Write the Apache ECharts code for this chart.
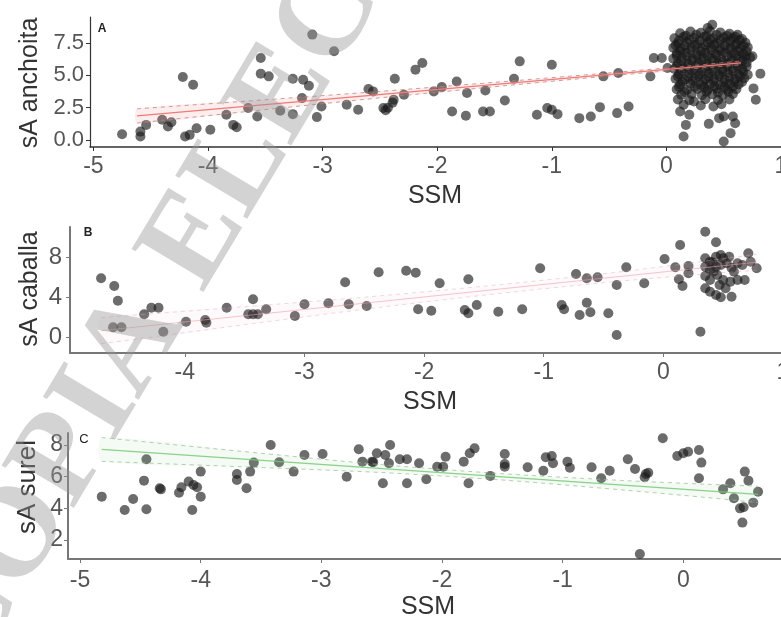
<!DOCTYPE html>
<html><head><meta charset="utf-8">
<script src="https://cdn.jsdelivr.net/npm/echarts@6/dist/echarts.min.js"></script>
<style>html,body{margin:0;padding:0;background:#fff}#c{width:781px;height:617px}</style>
</head><body><div id="c"></div>
<script>
// ---------- Panel A: sA anchoita vs SSM ----------
const anchoitaPts = [
[-4.75,0.44],[-4.59,0.26],[-4.59,0.64],[-4.54,1.16],[-4.40,1.55],[-4.35,1.03],[-4.32,1.37],[-4.22,4.86],[-4.13,4.26],
[-4.20,0.26],[-4.16,0.39],[-4.10,0.90],[-3.98,0.78],[-3.84,1.94],[-3.78,1.16],[-3.75,0.98],[-3.65,2.46],[-3.57,1.81],
[-3.54,6.33],[-3.54,5.12],[-3.47,4.91],[-3.37,2.25],[-3.26,4.73],[-3.26,1.99],[-3.18,3.23],[-3.17,4.65],[-3.12,4.19],
[-3.09,8.14],[-3.05,1.76],[-3.01,2.58],[-2.90,6.85],[-2.79,2.71],[-2.69,2.33],[-2.60,3.93],[-2.56,3.75],[-2.47,2.46],
[-2.43,2.48],[-2.39,2.87],[-2.38,3.10],[-2.45,2.30],[-2.37,4.73],[-2.29,3.49],[-2.19,5.43],[-2.13,5.95],[-2.03,3.75],
[-1.96,4.08],[-1.87,2.19],[-1.75,1.86],[-1.83,4.52],[-1.74,3.62],[-1.60,2.19],[-1.54,2.19],[-1.58,3.82],[-1.41,3.05],
[-1.33,4.73],[-1.28,6.07],[-1.13,1.94],[-1.04,2.46],[-1.00,2.33],[-0.95,1.99],[-1.00,5.81],[-0.76,1.68],[-0.66,1.81],
[-0.58,2.53],[-0.55,4.91],[-0.43,2.07],[-0.33,2.58],[-0.42,5.17],[-0.14,4.91],[-0.11,6.33],[-0.04,6.33],[0.01,5.56],
[0.15,0.26],[0.17,1.16],[0.20,1.94],[0.12,2.19],[0.37,1.24],[0.50,-0.13],[0.56,0.52],[0.60,1.29],[0.58,1.81],[0.46,1.68],
[0.50,1.81],[0.24,2.97],[0.41,2.58],[0.78,3.10],[0.76,3.98],[0.82,5.12],[0.75,6.46],[0.40,8.90],[0.36,8.65],
[0.12,8.25],[0.21,8.38],[0.30,8.28],[0.38,8.42],[0.47,8.31],[0.55,8.20],[0.62,8.12],
[0.07,7.85],[0.15,7.95],[0.24,7.88],[0.33,7.97],[0.41,7.84],[0.50,7.92],[0.58,7.86],[0.66,7.80],
[0.10,7.46],[0.18,7.55],[0.27,7.42],[0.36,7.52],[0.44,7.47],[0.52,7.56],[0.61,7.44],[0.69,7.50],
[0.06,7.12],[0.13,7.05],[0.22,7.14],[0.31,7.08],[0.39,7.16],[0.47,7.03],[0.56,7.11],[0.64,7.06],[0.71,7.15],
[0.09,6.68],[0.17,6.74],[0.26,6.65],[0.34,6.72],[0.43,6.66],[0.51,6.75],[0.59,6.69],[0.67,6.63],
[0.06,6.28],[0.14,6.33],[0.23,6.26],[0.32,6.35],[0.40,6.29],[0.48,6.24],[0.57,6.32],[0.65,6.27],[0.73,6.36],
[0.10,5.92],[0.19,5.86],[0.28,5.95],[0.36,5.88],[0.45,5.93],[0.53,5.85],[0.62,5.90],[0.70,5.96],
[0.07,5.48],[0.15,5.53],[0.24,5.46],[0.33,5.55],[0.41,5.50],[0.49,5.44],[0.58,5.52],[0.66,5.47],
[0.11,5.08],[0.20,5.14],[0.29,5.06],[0.37,5.12],[0.46,5.05],[0.54,5.13],[0.63,5.09],[0.71,5.04],
[0.08,4.72],[0.16,4.66],[0.25,4.74],[0.34,4.68],[0.42,4.73],[0.51,4.65],[0.60,4.71],[0.68,4.76],
[0.12,4.28],[0.21,4.34],[0.30,4.26],[0.38,4.32],[0.47,4.25],[0.55,4.33],[0.63,4.29],
[0.09,3.92],[0.18,3.86],[0.27,3.94],[0.36,3.88],[0.44,3.95],[0.53,3.87],[0.61,3.91],
[0.13,3.48],[0.22,3.54],[0.31,3.46],[0.40,3.52],[0.49,3.45],[0.58,3.55],
[0.10,3.12],[0.20,3.06],[0.34,3.15],[0.45,3.08],[0.55,3.13],
[0.15,2.72],[0.30,2.66],[0.48,2.75],
[0.17,8.05],[0.26,8.12],[0.35,8.02],[0.44,8.10],[0.53,8.04],[0.60,7.98],
[0.11,7.68],[0.20,7.73],[0.29,7.66],[0.38,7.75],[0.47,7.70],[0.56,7.64],[0.64,7.71],
[0.08,7.31],[0.16,7.26],[0.25,7.33],[0.34,7.29],[0.42,7.35],[0.51,7.27],[0.60,7.32],[0.67,7.28],
[0.12,6.88],[0.21,6.93],[0.30,6.86],[0.39,6.94],[0.47,6.89],[0.55,6.95],[0.63,6.87],[0.70,6.84],
[0.09,6.50],[0.18,6.46],[0.27,6.53],[0.36,6.48],[0.44,6.54],[0.53,6.45],[0.61,6.51],[0.69,6.47],
[0.13,6.10],[0.22,6.14],[0.31,6.07],[0.40,6.12],[0.49,6.05],[0.57,6.13],[0.66,6.09],
[0.09,5.71],[0.18,5.67],[0.27,5.74],[0.36,5.69],[0.45,5.75],[0.53,5.66],[0.62,5.72],[0.70,5.68],
[0.13,5.30],[0.22,5.34],[0.31,5.27],[0.40,5.33],[0.49,5.26],[0.58,5.31],[0.67,5.28],
[0.10,4.90],[0.19,4.86],[0.28,4.93],[0.37,4.88],[0.46,4.94],[0.55,4.85],[0.64,4.91],
[0.14,4.50],[0.23,4.55],[0.32,4.47],[0.41,4.53],[0.50,4.46],[0.59,4.52],[0.66,4.48],
[0.11,4.10],[0.25,4.12],[0.33,4.06],[0.42,4.13],[0.51,4.08],[0.58,4.11],
[0.16,3.70],[0.35,3.72],[0.45,3.67],[0.54,3.73]
];
const fitAX = [-4.62, 0.65];
const fitAY = [1.85, 5.95];
const ciAX = [-4.62, -3.5, -2.5, -1.5, -0.5, 0.2, 0.65];
const ciAUpper = [2.40, 3.10, 3.75, 4.45, 5.18, 5.72, 6.10];
const ciALower = [1.30, 2.34, 3.25, 4.11, 4.94, 5.48, 5.80];
const ticksAX = [-5, -4, -3, -2, -1, 0, 1];
const ticksAY = [0, 2.5, 5, 7.5];

// ---------- Panel B: sA caballa vs SSM ----------
const caballaPts = [
[-4.70,5.87],[-4.59,5.10],[-4.56,3.63],[-4.60,0.97],[-4.53,0.97],[-4.34,2.27],[-4.28,2.93],[-4.22,2.93],[-4.18,0.53],
[-3.99,1.53],[-3.83,1.70],[-3.82,1.43],[-3.65,2.93],[-3.43,3.77],[-3.47,2.27],[-3.43,2.27],[-3.39,2.27],[-3.32,2.77],
[-3.08,2.10],[-3.00,3.27],[-2.80,3.37],[-2.66,5.47],[-2.63,3.27],[-2.48,3.10],[-2.38,6.47],
[-2.15,6.63],[-2.07,6.43],[-1.87,5.37],[-2.05,2.77],[-1.94,2.63],[-1.63,5.77],[-1.66,2.70],[-1.63,2.37],[-1.56,3.20],
[-1.38,2.53],[-1.18,2.77],[-1.03,6.87],[-0.85,3.20],[-0.83,2.77],[-0.73,6.30],[-0.64,5.87],[-0.55,5.97],
[-0.70,2.20],[-0.64,3.43],[-0.61,2.47],[-0.46,2.37],[-0.39,5.20],[-0.39,0.20],[-0.31,6.97],[-0.16,5.37],
[0.01,7.80],[0.14,9.20],[0.10,6.97],[0.13,5.77],[0.16,5.10],[0.21,7.10],[0.21,6.37],[0.35,10.53],[0.44,9.47],[0.31,0.53],
[0.35,7.87],[0.39,7.53],[0.44,8.03],[0.48,8.20],[0.50,7.87],[0.35,7.03],[0.39,6.70],[0.44,7.03],[0.48,7.20],[0.53,7.37],
[0.62,7.37],[0.66,7.20],[0.71,8.37],[0.73,7.53],[0.78,6.87],[0.35,6.10],[0.39,5.70],[0.45,6.20],[0.50,5.70],[0.56,5.53],
[0.62,5.70],[0.68,5.70],[0.35,4.87],[0.39,4.53],[0.44,4.20],[0.48,3.97],[0.57,4.03],[0.52,4.87],[0.59,6.53],[0.55,8.03],
[0.42,6.55],[0.47,5.20],[0.41,7.45],[0.57,6.90]
];
const fitBX = [-4.70, 0.78];
const fitBY = [0.63, 7.48];
const ciBX = [-4.70, -3.5, -2.5, -1.5, -0.5, 0.2, 0.78];
const ciBUpper = [1.93, 3.03, 3.98, 5.08, 6.33, 7.35, 8.28];
const ciBLower = [-0.67, 1.23, 2.78, 4.18, 5.43, 6.15, 6.68];
const ticksBX = [-4, -3, -2, -1, 0, 1];
const ticksBY = [0, 4, 8];

// ---------- Panel C: sA surel vs SSM ----------
const surelPts = [
[-4.82,4.74],[-4.63,3.90],[-4.56,4.59],[-4.45,7.10],[-4.47,5.75],[-4.45,3.94],[-4.34,5.27],[-4.33,5.20],[-4.18,4.99],
[-4.16,5.33],[-4.10,5.69],[-4.06,5.48],[-4.03,5.33],[-4.07,3.90],[-4.00,6.32],[-4.00,4.74],[-3.70,6.17],[-3.70,5.79],
[-3.62,5.27],[-3.59,6.32],[-3.56,6.89],[-3.42,8.00],[-3.35,6.91],[-3.23,6.32],[-3.14,7.37],[-2.99,7.43],[-2.79,6.00],
[-2.69,7.73],[-2.66,6.95],[-2.58,6.95],[-2.57,6.92],[-2.54,7.48],[-2.47,7.37],[-2.44,6.85],[-2.49,5.58],[-2.43,8.00],
[-2.35,7.10],[-2.29,7.10],[-2.29,5.58],[-2.19,6.85],[-2.13,5.84],[-2.04,6.63],[-1.99,6.63],[-1.97,7.26],[-1.82,6.95],
[-1.78,5.58],[-1.77,7.48],[-1.73,7.79],[-1.60,6.05],[-1.48,7.43],[-1.48,6.80],[-1.48,6.63],[-1.29,6.60],[-1.16,6.38],
[-1.14,7.23],[-1.09,7.31],[-1.08,6.85],[-0.96,6.95],[-0.94,6.57],[-0.76,6.60],[-0.68,5.90],[-0.61,6.38],[-0.46,7.10],
[-0.40,6.49],[-0.31,6.17],[-0.29,6.25],[-0.32,5.96],[-0.36,1.12],[-0.17,8.43],[-0.05,7.31],[0.00,7.48],[0.04,7.58],
[0.13,7.69],[0.15,6.89],[0.13,5.90],[0.33,5.20],[0.39,5.58],[0.42,4.64],[0.47,4.00],[0.50,4.07],[0.49,3.10],[0.51,6.32],
[0.54,5.75],[0.58,4.36],[0.62,5.05]
];
const fitCX = [-4.82, 0.62];
const fitCY = [7.72, 4.88];
const ciCX = [-4.82, -3.5, -2.5, -1.5, -0.5, 0.2, 0.62];
const ciCUpper = [8.47, 7.48, 6.76, 6.19, 5.76, 5.52, 5.40];
const ciCLower = [6.97, 6.58, 6.26, 5.79, 5.16, 4.68, 4.36];
const ticksCX = [-5, -4, -3, -2, -1, 0];
const ticksCY = [2, 4, 6, 8];

const FONT = '"Liberation Sans", Arial, sans-serif';
const zip = (xs, ys) => xs.map((x, i) => [x, ys[i]]);

function xAx(i, min, max, ticks, color, width, margin) {
  return { gridIndex: i, type: 'value', min: min, max: max,
    axisLine: { show: true, onZero: false, lineStyle: { color: color, width: width } },
    axisTick: { show: true, length: 4, customValues: ticks, lineStyle: { color: color, width: 1 } },
    axisLabel: { customValues: ticks, fontSize: 23, fontFamily: FONT, color: '#555', margin: margin,
      formatter: v => String(v) },
    splitLine: { show: false } };
}
function yAx(i, min, max, ticks, color, width, fs, margin, fmt) {
  return { gridIndex: i, type: 'value', min: min, max: max,
    axisLine: { show: true, onZero: false, lineStyle: { color: color, width: width } },
    axisTick: { show: true, length: 4, customValues: ticks, lineStyle: { color: color, width: 1 } },
    axisLabel: { customValues: ticks, fontSize: fs, fontFamily: FONT, color: '#555', margin: margin, formatter: fmt },
    splitLine: { show: false } };
}
function pts(i, data) {
  return { type: 'scatter', xAxisIndex: i, yAxisIndex: i, data: data, symbolSize: 10,
    itemStyle: { color: 'rgba(25,25,25,0.8)' }, z: 2, silent: true };
}
function line(i, xs, ys, color, w, dashed, z) {
  return { type: 'line', xAxisIndex: i, yAxisIndex: i, data: zip(xs, ys), showSymbol: false, smooth: 0.3,
    lineStyle: { color: color, width: w, type: dashed ? [4, 4] : 'solid' }, z: z, silent: true };
}
function band(i, xs, lo, hi, fill) {
  return { type: 'custom', xAxisIndex: i, yAxisIndex: i, silent: true, z: 3,
    data: [[xs[0], lo[0]]],
    renderItem: function (params, api) {
      const p = [];
      for (let k = 0; k < xs.length; k++) p.push(api.coord([xs[k], hi[k]]));
      for (let k = xs.length - 1; k >= 0; k--) p.push(api.coord([xs[k], lo[k]]));
      return { type: 'polygon', shape: { points: p, smooth: 0.2 }, style: { fill: fill } };
    } };
}
function txt(x, y, s, size, rot, color, weight) {
  return { type: 'text', x: x, y: y, rotation: rot || 0, z: 50,
    style: { text: s, fontSize: size, fontFamily: FONT, fontWeight: weight || 'normal', fill: color || '#333',
      align: 'center', verticalAlign: 'middle' } };
}

const chart = echarts.init(document.getElementById('c'), null, { renderer: 'canvas' });
chart.setOption({
  animation: false,
  backgroundColor: '#fff',
  grid: [
    { left: 90, right: 0, top: 17, bottom: 470, outerBoundsMode: 'none', containLabel: false },
    { left: 70, right: -2, top: 227, bottom: 264, outerBoundsMode: 'none', containLabel: false },
    { left: 68, right: 0, top: 433, bottom: 58, outerBoundsMode: 'none', containLabel: false }
  ],
  xAxis: [
    xAx(0, -5.03, 1.0, ticksAX, '#333', 1.5, 8),
    xAx(1, -4.96, 1.0, ticksBX, '#777', 2, 8),
    xAx(2, -5.10, 0.81, ticksCX, '#777', 2, 10)
  ],
  yAxis: [
    yAx(0, -0.55, 9.5, ticksAY, '#333', 1.2, 22, 6, v => v.toFixed(1)),
    yAx(1, -1.6, 11, ticksBY, '#777', 2, 24, 8, v => String(v)),
    yAx(2, 0.8, 8.76, ticksCY, '#777', 2, 23, 5, v => String(v))
  ],
  series: [
    pts(0, anchoitaPts), pts(1, caballaPts), pts(2, surelPts),
    band(0, ciAX, ciALower, ciAUpper, 'rgba(235,150,150,0.16)'),
    band(1, ciBX, ciBLower, ciBUpper, 'rgba(235,170,180,0.07)'),
    band(2, ciCX, ciCLower, ciCUpper, 'rgba(150,215,150,0.10)'),
    line(0, fitAX, fitAY, '#ee7b74', 1.3, false, 5),
    line(0, ciAX, ciAUpper, 'rgba(200,120,120,0.75)', 1, true, 5),
    line(0, ciAX, ciALower, 'rgba(200,120,120,0.75)', 1, true, 5),
    line(1, fitBX, fitBY, 'rgba(235,160,170,0.6)', 1, false, 5),
    line(1, ciBX, ciBUpper, 'rgba(220,160,170,0.4)', 1, true, 5),
    line(1, ciBX, ciBLower, 'rgba(220,160,170,0.4)', 1, true, 5),
    line(2, fitCX, fitCY, 'rgba(120,200,120,0.85)', 1.2, false, 5),
    line(2, ciCX, ciCUpper, 'rgba(150,185,150,0.7)', 1, true, 5),
    line(2, ciCX, ciCLower, 'rgba(150,185,150,0.7)', 1, true, 5)
  ],
  graphic: [
    txt(30, 83, 'sA anchoita', 25, Math.PI / 2, '#333'),
    txt(30, 289, 'sA caballa', 25, Math.PI / 2, '#333'),
    txt(28, 487, 'sA surel', 26, Math.PI / 2, '#333'),
    txt(435, 196, 'SSM', 25, 0, '#333'),
    txt(430, 402, 'SSM', 25, 0, '#333'),
    txt(428, 607, 'SSM', 25, 0, '#333'),
    txt(102, 29, 'A', 12, 0, '#222', 'bold'),
    txt(88, 233, 'B', 12, 0, '#222', 'bold'),
    txt(84, 439, 'C', 13, 0, '#222', 'normal'),
    { type: 'text', x: -55, y: 658, rotation: 1.03, z: 100, silent: true,
      style: { text: 'COPIA ELECTRÓNICA', fontSize: 128, fontWeight: 'bold',
        fontFamily: '"Liberation Serif", "DejaVu Serif", serif',
        fill: 'rgba(150,150,150,0.42)', align: 'left', verticalAlign: 'middle' } }
  ]
});
</script>
</body></html>
